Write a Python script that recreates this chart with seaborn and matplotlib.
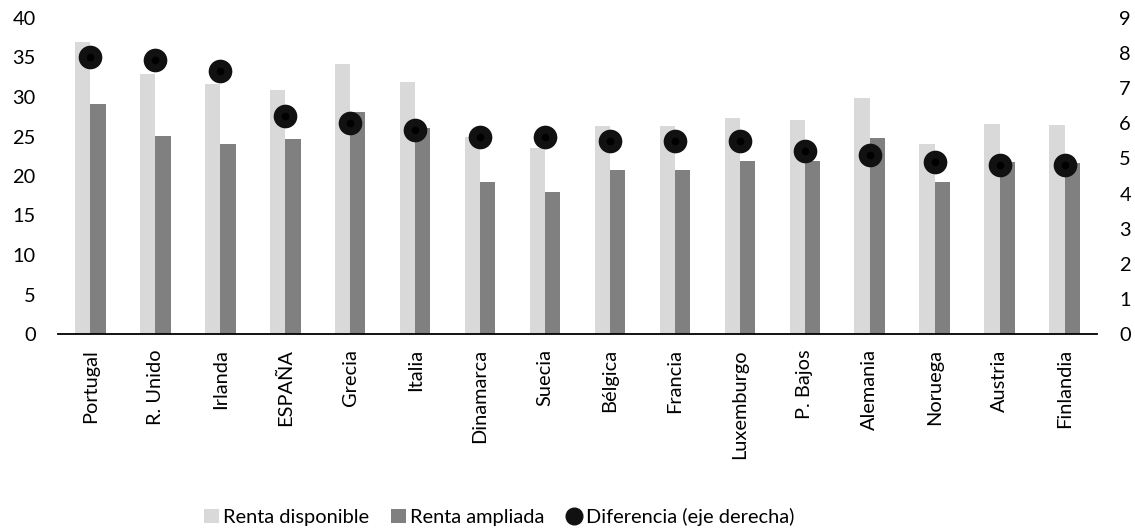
import numpy as np
import pandas as pd
import matplotlib
matplotlib.use("Agg")
import matplotlib.pyplot as plt
from matplotlib.patches import Patch
from matplotlib.lines import Line2D
from matplotlib.ticker import FixedLocator
import seaborn as sns

paises = ["Portugal", "R. Unido", "Irlanda", "ESPAÑA", "Grecia", "Italia",
          "Dinamarca", "Suecia", "Bélgica", "Francia", "Luxemburgo",
          "P. Bajos", "Alemania", "Noruega", "Austria", "Finlandia"]
renta_disponible = [37.0, 32.9, 31.6, 30.9, 34.2, 31.9, 24.9, 23.6, 26.3,
                    26.3, 27.4, 27.1, 29.9, 24.1, 26.6, 26.5]
renta_ampliada = [29.1, 25.1, 24.1, 24.7, 28.1, 26.1, 19.3, 18.0, 20.8,
                  20.8, 21.9, 21.9, 24.8, 19.2, 21.8, 21.6]
diferencia = [7.9, 7.8, 7.5, 6.2, 6.0, 5.8, 5.6, 5.6, 5.5, 5.5, 5.5,
              5.2, 5.1, 4.9, 4.8, 4.8]
serie_nombres = ["Renta disponible", "Renta ampliada"]
etiqueta_diferencia = "Diferencia (eje derecha)"

color_claro = "#d9d9d9"
color_oscuro = "#808080"
color_punto = "#111111"

sns.set_style("white")
plt.rcParams["font.family"] = ["Lato", "DejaVu Sans"]
plt.rcParams["text.color"] = "black"
plt.rcParams["xtick.color"] = "black"
plt.rcParams["ytick.color"] = "black"
FS = 14.4

df = pd.DataFrame({
    "pais": paises * 2,
    "valor": renta_disponible + renta_ampliada,
    "serie": [serie_nombres[0]] * len(paises) + [serie_nombres[1]] * len(paises),
})

fig = plt.figure(figsize=(11.35, 5.29), dpi=100)
ax = fig.add_axes([58 / 1135, 1 - 334 / 529, (1097 - 58) / 1135, (334 - 18) / 529])

sns.barplot(data=df, x="pais", y="valor", hue="serie", order=paises,
            hue_order=serie_nombres, palette=[color_claro, color_oscuro],
            width=0.47, gap=0, linewidth=0, saturation=1, ax=ax,
            errorbar=None, legend=False)

ax2 = ax.twinx()
sns.pointplot(x=paises, y=diferencia, order=paises, linestyle="none",
              marker="o", markersize=15, color=color_punto, errorbar=None,
              ax=ax2)
sns.pointplot(x=paises, y=diferencia, order=paises, linestyle="none",
              marker="o", markersize=3.5, color="black", errorbar=None,
              ax=ax2)

n = len(paises)
for a in (ax, ax2):
    a.set_xlim(-0.5, n - 0.5)
    for s in ("left", "right", "top"):
        a.spines[s].set_visible(False)
ax2.spines["bottom"].set_visible(False)
ax.spines["bottom"].set_color("black")
ax.spines["bottom"].set_linewidth(1.3)

ax.set_ylim(0, 40)
ax.set_yticks(np.arange(0, 41, 5))
ax2.set_ylim(0, 9)
ax2.set_yticks(np.arange(0, 10, 1))
ax.tick_params(axis="y", length=0, labelsize=FS, pad=16)
ax2.tick_params(axis="y", length=0, labelsize=FS, pad=16)
ax.set_ylabel("")
ax2.set_ylabel("")
ax.set_xlabel("")

ax.set_xticks(range(n))
ax.set_xticklabels(paises, rotation=90, fontsize=FS)
ax.tick_params(axis="x", which="major", length=0, pad=11)
ax.xaxis.set_minor_locator(FixedLocator(np.arange(-0.5, n, 1.0)))
ax.tick_params(axis="x", which="minor", length=6, width=1.3, direction="out",
               color="black")
ax.grid(False)
ax2.grid(False)

handles = [
    Patch(facecolor=color_claro, edgecolor="none"),
    Patch(facecolor=color_oscuro, edgecolor="none"),
    Line2D([], [], marker="o", linestyle="none", markersize=12,
           color=color_punto),
]
fig.legend(handles, serie_nombres + [etiqueta_diferencia], loc="center",
           bbox_to_anchor=(499 / 1135, 1 - 517 / 529), ncol=3, frameon=False,
           fontsize=FS, handlelength=0.75, handleheight=0.75, handletextpad=0.2,
           columnspacing=1.1, borderaxespad=0)

fig.savefig("out.png", dpi=100)
